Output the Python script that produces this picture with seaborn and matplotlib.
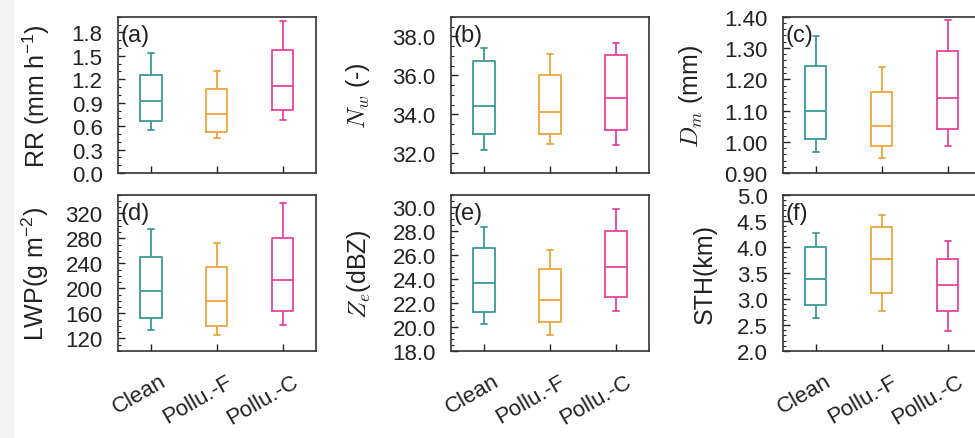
import numpy as np
import pandas as pd
import matplotlib
matplotlib.use("Agg")
import matplotlib.pyplot as plt
import matplotlib.transforms as mtransforms
import seaborn as sns
from matplotlib.patches import Rectangle
from matplotlib.ticker import MultipleLocator, FormatStrFormatter

groups = ["Clean", "Pollu.-F", "Pollu.-C"]
colors = ["#3a9a9b", "#eba63c", "#e6449c"]

# five-number summaries per group: min, q1, median, q3, max
rr = [[0.55, 0.67, 0.92, 1.26, 1.54],
      [0.45, 0.53, 0.76, 1.07, 1.31],
      [0.68, 0.81, 1.11, 1.57, 1.94]]
nw = [[32.20, 32.99, 34.44, 36.72, 37.40],
      [32.49, 33.02, 34.11, 36.04, 37.10],
      [32.44, 33.18, 34.86, 37.05, 37.64]]
dm = [[0.968, 1.008, 1.099, 1.241, 1.339],
      [0.948, 0.988, 1.049, 1.159, 1.240],
      [0.988, 1.040, 1.140, 1.290, 1.390]]
lwp = [[133.9, 152.7, 195.6, 250.8, 294.8],
       [125.4, 140.4, 180.6, 233.7, 272.3],
       [142.0, 163.4, 213.3, 280.3, 336.6]]
ze = [[20.24, 21.22, 23.65, 26.56, 28.29],
      [19.29, 20.38, 22.22, 24.80, 26.39],
      [21.33, 22.48, 25.02, 28.01, 29.78]]
sth = [[2.63, 2.88, 3.39, 4.00, 4.26],
       [2.76, 3.12, 3.76, 4.38, 4.62],
       [2.39, 2.76, 3.27, 3.76, 4.12]]

panel_tags = ["(a)", "(b)", "(c)", "(d)", "(e)", "(f)"]
ylabels = [r"RR (mm h$\mathregular{^{-1}}$)", r"$N_w$ (-)", r"$D_m$ (mm)",
           r"LWP(g m$\mathregular{^{-2}}$)", r"$Z_e$(dBZ)", "STH(km)"]


def to_frame(summ):
    rows = []
    for g, vals in zip(groups, summ):
        for v in vals:
            rows.append({"group": g, "value": v})
    return pd.DataFrame(rows)


sns.set_theme(style="ticks")
plt.rcParams["font.family"] = ["Liberation Sans", "DejaVu Sans"]
plt.rcParams["mathtext.fontset"] = "cm"

fig = plt.figure(figsize=(9.75, 4.39), dpi=100)
fig.add_artist(Rectangle((0, 0), 0.014, 1, transform=fig.transFigure,
                         facecolor="#f3f3f3", edgecolor="none", zorder=0))

W, H = 0.203, 0.356
lefts = [0.121, 0.4626, 0.803]
bottoms = [0.6036, 0.1982]

settings = [
    # data, ylim, major, minor, fmt, label x
    (rr, (0, 2.0), 0.3, 0.1, "%.1f", -0.335),
    (nw, (31, 39), 2.0, 0.5, "%.1f", -0.40),
    (dm, (0.9, 1.4), 0.1, 0.02, "%.2f", -0.395),
    (lwp, (100, 350), 40, 10, "%d", -0.34),
    (ze, (18, 31), 2.0, 0.5, "%.1f", -0.394),
    (sth, (2.0, 5.0), 0.5, 0.1, "%.1f", -0.334),
]

for i, (summ, ylim, major, minor, fmt, lx) in enumerate(settings):
    row, col = divmod(i, 3)
    ax = fig.add_axes([lefts[col], bottoms[row], W, H])
    df = to_frame(summ)
    sns.boxplot(data=df, x="group", y="value", hue="group", order=groups,
                hue_order=groups, palette=colors, whis=(0, 100), fill=False,
                width=0.32, linewidth=1.3, legend=False, ax=ax)
    # shorter caps than the seaborn default
    for ln in ax.lines:
        xd = np.asarray(ln.get_xdata(), dtype=float)
        yd = np.asarray(ln.get_ydata(), dtype=float)
        if len(xd) == 2 and yd[0] == yd[1] and abs(xd[1] - xd[0]) < 0.2:
            c = xd.mean()
            ln.set_xdata([c - 0.04, c + 0.04])

    ax.set_xlim(-0.5, 2.5)
    ax.set_ylim(*ylim)
    ax.yaxis.set_major_locator(MultipleLocator(major))
    ax.yaxis.set_minor_locator(MultipleLocator(minor))
    ax.yaxis.set_major_formatter(FormatStrFormatter(fmt))
    ax.tick_params(axis="both", which="major", direction="in", length=5,
                   width=1, labelsize=16, colors="#222222")
    ax.tick_params(axis="y", which="major", pad=11)
    ax.tick_params(axis="y", which="minor", direction="in", length=2.5, width=0.8)
    ax.set_xlabel("")
    ax.set_ylabel(ylabels[i], fontsize=18, color="#222222")
    ax.yaxis.set_label_coords(lx, 0.5)
    for sp in ax.spines.values():
        sp.set_color("#333333")
        sp.set_linewidth(1.2)
    ax.set_xticks(range(3))
    if row == 1:
        ax.set_xticklabels(groups, rotation=30, ha="right",
                           rotation_mode="anchor", fontsize=16)
        ax.tick_params(axis="x", pad=14)
        shift = mtransforms.ScaledTranslation(6 / 72, 0, fig.dpi_scale_trans)
        for lab in ax.get_xticklabels():
            lab.set_transform(lab.get_transform() + shift)
    else:
        ax.set_xticklabels([])
    ax.text(0.012, 0.955, panel_tags[i], transform=ax.transAxes, ha="left",
            va="top", fontsize=17, color="#222222")

fig.savefig("out.png", dpi=100)
